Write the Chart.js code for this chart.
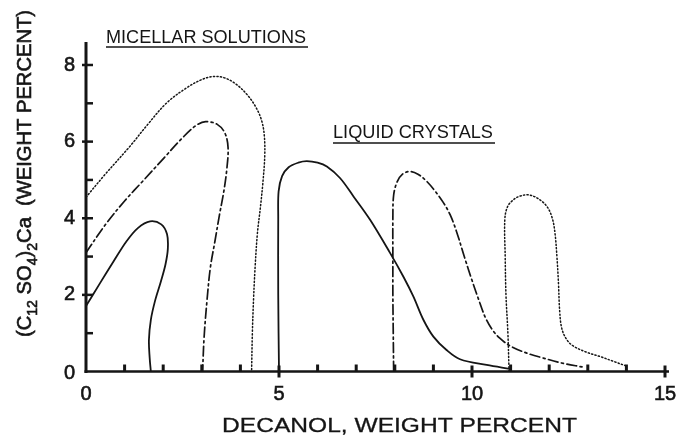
<!DOCTYPE html>
<html>
<head>
<meta charset="utf-8">
<script src="https://cdn.jsdelivr.net/npm/chart.js@4/dist/chart.umd.min.js"></script>
<style>
  html, body { margin: 0; padding: 0; background: #fff; }
  canvas { display: block; }
</style>
</head>
<body>
<canvas id="phase" width="676" height="439"></canvas>
<script>
// Decanol content (x) and calcium dodecyl sulfate content (y), weight percent.
// Micellar solution boundaries
const micSolidX = [0.00, 0.36, 0.70, 1.05, 1.35, 1.66, 1.95, 2.10, 2.12, 2.06, 1.94, 1.79, 1.68, 1.63, 1.65, 1.68];
const micSolidY = [1.71, 2.30, 2.85, 3.40, 3.75, 3.92, 3.84, 3.58, 3.20, 2.80, 2.35, 1.85, 1.35, 0.82, 0.35, 0.00];

const micDashDotX = [0.00, 0.50, 1.00, 1.50, 2.00, 2.50, 2.85, 3.10, 3.40, 3.60, 3.68, 3.65, 3.57, 3.46, 3.34, 3.22, 3.13, 3.06, 3.02];
const micDashDotY = [3.10, 3.83, 4.45, 5.00, 5.55, 6.10, 6.42, 6.52, 6.45, 6.22, 5.85, 5.30, 4.70, 4.10, 3.40, 2.70, 1.80, 0.90, 0.00];

const micDottedX = [0.00, 0.50, 1.14, 1.60, 2.09, 2.60, 3.00, 3.30, 3.60, 3.90, 4.18, 4.40, 4.55, 4.62, 4.63, 4.58, 4.52, 4.44, 4.38, 4.34, 4.31, 4.29];
const micDottedY = [4.55, 5.15, 5.88, 6.45, 7.01, 7.40, 7.62, 7.70, 7.66, 7.49, 7.22, 6.90, 6.55, 6.15, 5.60, 4.90, 4.30, 3.60, 2.70, 1.87, 1.00, 0.00];

// Liquid crystal boundaries
const lcSolidX = [5.00, 4.98, 4.98, 4.99, 5.08, 5.25, 5.50, 5.72, 6.00, 6.24, 6.58, 6.93, 7.36, 7.88, 8.22, 8.48, 8.74, 9.00, 9.34, 9.69, 10.38, 10.98];
const lcSolidY = [0.00, 2.00, 4.00, 4.70, 5.10, 5.33, 5.45, 5.49, 5.45, 5.35, 5.05, 4.57, 3.96, 3.09, 2.48, 1.96, 1.35, 0.91, 0.56, 0.32, 0.17, 0.07];

const lcDashDotX = [7.97, 7.96, 7.95, 7.95, 7.95, 7.97, 8.06, 8.20, 8.39, 8.60, 8.83, 9.05, 9.25, 9.43, 9.60, 9.80, 10.00, 10.20, 10.35, 10.52, 10.72, 11.00, 11.42, 11.85, 12.37, 12.85];
const lcDashDotY = [0.00, 1.00, 2.00, 3.00, 4.00, 4.60, 4.95, 5.15, 5.22, 5.15, 4.96, 4.70, 4.42, 4.10, 3.65, 3.00, 2.38, 1.80, 1.40, 1.10, 0.87, 0.66, 0.48, 0.35, 0.21, 0.12];

const lcDottedX = [10.96, 10.93, 10.88, 10.86, 10.85, 10.92, 11.07, 11.25, 11.46, 11.70, 11.94, 12.08, 12.15, 12.20, 12.24, 12.27, 12.32, 12.43, 12.60, 12.95, 13.32, 13.65, 13.98];
const lcDottedY = [0.00, 1.00, 2.00, 3.00, 3.96, 4.30, 4.48, 4.58, 4.61, 4.52, 4.31, 4.00, 3.61, 3.00, 2.31, 1.60, 1.15, 0.87, 0.68, 0.51, 0.39, 0.27, 0.15];

// Axis ticks and labels
const xTickValues = [0, 5, 10, 15];
const xTickLabels = ['0', '5', '10', '15'];
const xMinorTicks = [1, 2, 3, 4, 6, 7, 8, 9, 11, 12, 13, 14];
const yTickValues = [0, 2, 4, 6, 8];
const yTickLabels = ['0', '2', '4', '6', '8'];
const yMinorTicks = [1, 3, 5, 7];

const xTitle = 'DECANOL, WEIGHT PERCENT';
const yTitleParts = [
  { text: '(C', sub: false },
  { text: '12', sub: true },
  { text: ' SO', sub: false },
  { text: '4', sub: true },
  { text: ')', sub: false },
  { text: '2', sub: true },
  { text: 'Ca  (WEIGHT PERCENT)', sub: false }
];
const regionLabels = [
  { text: 'MICELLAR SOLUTIONS', x: 106, w: 200, base: 43, line: 47 },
  { text: 'LIQUID CRYSTALS', x: 333, w: 160, base: 138, line: 143 }
];

const INK = '#151515';
const FONT = '"Liberation Sans", Arial, sans-serif';

function pts(xs, ys) { return xs.map((x, i) => ({ x: x, y: ys[i] })); }

function curve(label, xs, ys, dash, width) {
  return {
    label: label,
    data: pts(xs, ys),
    showLine: true,
    fill: false,
    borderColor: INK,
    borderWidth: width,
    borderDash: dash,
    borderCapStyle: 'round',
    pointRadius: 0,
    pointHoverRadius: 0,
    tension: 0.35
  };
}

const DASH_DOT = [10, 3.5, 2, 3.5];
const DOTTED = [1.2, 2.3];

// Draws a string squeezed or stretched to a given width
function fitText(ctx, text, x, y, width, stroke) {
  const w = ctx.measureText(text).width;
  ctx.save();
  ctx.translate(x, y);
  ctx.scale(width / w, 1);
  ctx.fillText(text, 0, 0);
  if (stroke) {
    ctx.lineWidth = stroke;
    ctx.strokeText(text, 0, 0);
  }
  ctx.restore();
}

function boldText(ctx, text, x, y) {
  ctx.fillText(text, x, y);
  ctx.lineWidth = 0.6;
  ctx.strokeText(text, x, y);
}

const axesPlugin = {
  id: 'phaseAxes',
  afterDatasetsDraw(chart) {
    const ctx = chart.ctx;
    const xs = chart.scales.x, ys = chart.scales.y;
    const x0 = xs.getPixelForValue(0);
    const y0 = ys.getPixelForValue(0);
    ctx.save();
    ctx.strokeStyle = INK;
    ctx.fillStyle = INK;
    ctx.lineCap = 'butt';

    // axis lines
    ctx.lineWidth = 3;
    ctx.beginPath();
    ctx.moveTo(x0, y0 + 1.5);
    ctx.lineTo(x0, ys.getPixelForValue(8.6));
    ctx.stroke();
    ctx.lineWidth = 2.5;
    ctx.beginPath();
    ctx.moveTo(x0 - 1.5, y0);
    ctx.lineTo(xs.getPixelForValue(15) + 4, y0);
    ctx.stroke();

    // y ticks
    ctx.lineWidth = 2.5;
    yTickValues.forEach(v => {
      if (v === 0) return;
      const p = ys.getPixelForValue(v);
      ctx.beginPath(); ctx.moveTo(x0 - 4, p); ctx.lineTo(x0 + 7, p); ctx.stroke();
    });
    yMinorTicks.forEach(v => {
      const p = ys.getPixelForValue(v);
      ctx.beginPath(); ctx.moveTo(x0, p); ctx.lineTo(x0 + 7, p); ctx.stroke();
    });
    // x ticks
    ctx.lineWidth = 3;
    xTickValues.forEach(v => {
      if (v === 0) return;
      const p = xs.getPixelForValue(v);
      ctx.beginPath(); ctx.moveTo(p, y0 - 6); ctx.lineTo(p, y0 + 6); ctx.stroke();
    });
    xMinorTicks.forEach(v => {
      const p = xs.getPixelForValue(v);
      ctx.beginPath(); ctx.moveTo(p, y0); ctx.lineTo(p, y0 - 7); ctx.stroke();
    });

    // tick labels
    ctx.font = '20px ' + FONT;
    ctx.textAlign = 'right';
    ctx.textBaseline = 'middle';
    yTickValues.forEach((v, i) => {
      boldText(ctx, yTickLabels[i], x0 - 11, ys.getPixelForValue(v) + (v === 0 ? 2 : 0));
    });
    ctx.textAlign = 'center';
    ctx.textBaseline = 'alphabetic';
    xTickValues.forEach((v, i) => {
      boldText(ctx, xTickLabels[i], xs.getPixelForValue(v), 400);
    });

    // x title
    ctx.textAlign = 'left';
    ctx.font = '20px ' + FONT;
    fitText(ctx, xTitle, 222, 432, 355, 0.3);

    // y title, rotated, with subscripts
    const mainFont = '20px ' + FONT;
    const subFont = '14px ' + FONT;
    let total = 0;
    yTitleParts.forEach(p => {
      ctx.font = p.sub ? subFont : mainFont;
      p.w = ctx.measureText(p.text).width;
      total += p.w;
    });
    ctx.save();
    ctx.translate(31, 337);
    ctx.rotate(-Math.PI / 2);
    ctx.scale(327 / total, 1);
    let cx = 0;
    yTitleParts.forEach(p => {
      ctx.font = p.sub ? subFont : mainFont;
      boldText(ctx, p.text, cx, p.sub ? 6 : 0);
      cx += p.w;
    });
    ctx.restore();

    // region labels with underline
    ctx.font = '18px ' + FONT;
    regionLabels.forEach(r => {
      fitText(ctx, r.text, r.x, r.base, r.w, 0);
      ctx.lineWidth = 1.5;
      ctx.beginPath();
      ctx.moveTo(r.x, r.line);
      ctx.lineTo(r.x + r.w + 2, r.line);
      ctx.stroke();
    });
    ctx.restore();
  }
};

new Chart(document.getElementById('phase'), {
  type: 'scatter',
  data: {
    datasets: [
      curve('Micellar, solid', micSolidX, micSolidY, [], 1.8),
      curve('Micellar, dash-dot', micDashDotX, micDashDotY, DASH_DOT, 1.7),
      curve('Micellar, dotted', micDottedX, micDottedY, DOTTED, 1.5),
      curve('Liquid crystal, solid', lcSolidX, lcSolidY, [], 1.8),
      curve('Liquid crystal, dash-dot', lcDashDotX, lcDashDotY, DASH_DOT, 1.7),
      curve('Liquid crystal, dotted', lcDottedX, lcDottedY, DOTTED, 1.5)
    ]
  },
  options: {
    responsive: false,
    devicePixelRatio: 1,
    animation: false,
    layout: { padding: { left: 86, right: 11, top: 42, bottom: 67.5 } },
    plugins: { legend: { display: false }, tooltip: { enabled: false } },
    scales: {
      x: { type: 'linear', min: 0, max: 15, display: false },
      y: { type: 'linear', min: 0, max: 8.6, display: false }
    },
    elements: { line: { capBezierPoints: false } }
  },
  plugins: [axesPlugin]
});
</script>
</body>
</html>
